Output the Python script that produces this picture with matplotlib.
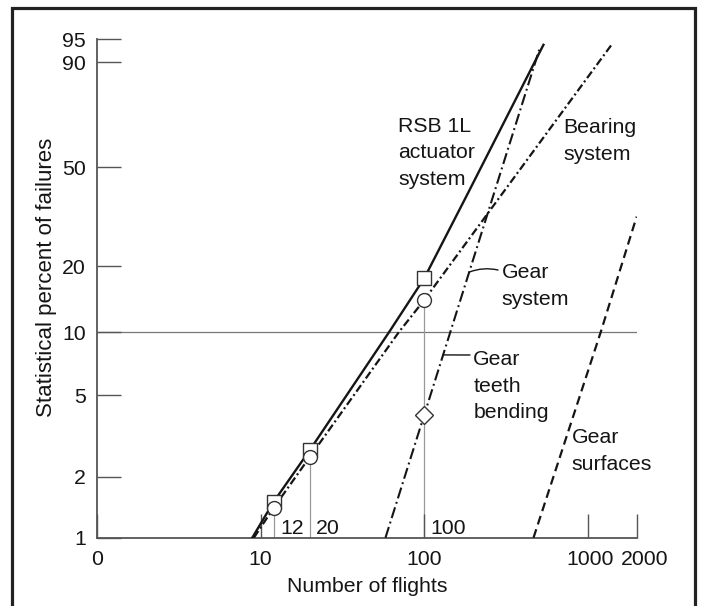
import numpy as np
import matplotlib
matplotlib.use("Agg")
import matplotlib.pyplot as plt
from matplotlib.patches import Rectangle
from matplotlib.ticker import NullLocator
from matplotlib.transforms import ScaledTranslation

plt.rcParams["font.family"] = ["Liberation Sans", "DejaVu Sans"]

# number of flights vs statistical percent of failures (Weibull paper)
rsb_flights = [8.9, 12, 20, 61, 100, 184, 536]
rsb_pct = [1.0, 1.5, 2.7, 10, 17.7, 40, 94]

bearing_flights = [9.1, 12, 20, 70, 100, 1420]
bearing_pct = [1.0, 1.4, 2.5, 10, 14.1, 94.3]

teeth_flights = [58, 100, 505]
teeth_pct = [1.0, 4.0, 93]

surface_flights = [466, 1200, 1990]
surface_pct = [1.0, 10, 32.6]

# test points (squares = actuator, circles = gear system, diamond = teeth)
test_flights = [12, 20, 100]
rsb_test_pct = [1.5, 2.7, 17.7]
gear_test_pct = [1.4, 2.5, 14.1]
teeth_test_flights = [100]
teeth_test_pct = [4.0]

x_ticks = [1, 10, 100, 1000, 2000]
x_ticklabels = ["0", "10", "100", "1000", "2000"]
y_ticks = [1, 2, 5, 10, 20, 50, 90, 95]

W, H = 702, 606


def weib(p):
    p = np.clip(np.asarray(p, float), 1e-6, 100 - 1e-6)
    return np.log(-np.log(1 - p / 100.0))


def weib_inv(w):
    return 100.0 * (1 - np.exp(-np.exp(np.asarray(w, float))))


def px(x, y):
    # figure pixel (from top-left) -> figure fraction
    return x / W, 1 - y / H


fig = plt.figure(figsize=(W / 100, H / 100), dpi=100)
ax = fig.add_axes([97 / W, (H - 537.7) / H, 540 / W, 498.4 / H])

ax.set_xscale("log")
ax.set_yscale("function", functions=(weib, weib_inv))
ax.set_xlim(1, 2000)
ax.set_ylim(1, 95)

ink = "#151515"
axis_grey = "#555555"
fs = 15.3

ax.plot(rsb_flights, rsb_pct, color=ink, lw=1.7, zorder=3)
ax.plot(bearing_flights, bearing_pct, color=ink, lw=1.6,
        ls=(0, (3.6, 1.4, 0.9, 1.4)), zorder=3)
ax.plot(teeth_flights, teeth_pct, color=ink, lw=1.5,
        ls=(0, (5.4, 1.8, 0.9, 1.8)), zorder=3)
ax.plot(surface_flights, surface_pct, color=ink, lw=1.6,
        ls=(0, (4.0, 2.3)), zorder=3)

ax.axhline(10, color="#777777", lw=0.9, zorder=1)
ax.vlines(test_flights, 1, gear_test_pct, color="#999999", lw=0.9, zorder=1)

ax.plot(test_flights, rsb_test_pct, "s", ms=10, mfc="white", mec="#333333",
        mew=1.0, zorder=5)
ax.plot(test_flights, gear_test_pct, "o", ms=10, mfc="white", mec="#333333",
        mew=1.0, zorder=6)
ax.plot(teeth_test_flights, teeth_test_pct, "D", ms=9.5, mfc="white",
        mec="#333333", mew=1.0, zorder=6)

for f in test_flights:
    ax.annotate(str(f), xy=(f, 0), xycoords=("data", "axes fraction"),
                xytext=(4.7, 6.8), textcoords="offset points",
                ha="left", va="center", fontsize=fs, color=ink)

ax.set_xticks(x_ticks, x_ticklabels)
ax.set_yticks(y_ticks, [str(v) for v in y_ticks])
ax.xaxis.set_minor_locator(NullLocator())
ax.yaxis.set_minor_locator(NullLocator())
ax.tick_params(direction="in", length=17.3, width=1.0, color=axis_grey,
               labelsize=fs, labelcolor=ink)
ax.tick_params(axis="x", pad=9)
ax.tick_params(axis="y", pad=8)

# the last two x labels sit a little right of their ticks
for tick, dx in zip(ax.xaxis.get_major_ticks()[-2:], (2, 8)):
    lab = tick.label1
    lab.set_transform(lab.get_transform()
                      + ScaledTranslation(dx / 100, 0, fig.dpi_scale_trans))

for side in ("top", "right"):
    ax.spines[side].set_visible(False)
for side in ("left", "bottom"):
    ax.spines[side].set_color(axis_grey)
    ax.spines[side].set_linewidth(1.3)

ax.set_xlabel("Number of flights", fontsize=fs, color=ink)
ax.set_ylabel("Statistical percent of failures", fontsize=16, color=ink)
ax.xaxis.set_label_coords(0.5, -(586.9 - 537.7) / 498.4)
ax.xaxis.label.set_va("center")
ax.yaxis.set_label_coords((46.4 - 97) / 540, 0.522)
ax.yaxis.label.set_va("center")

labels = [
    ("RSB 1L\nactuator\nsystem", 398.3, 116.7),
    ("Bearing\nsystem", 563.3, 118.3),
    ("Gear\nsystem", 501.7, 263.3),
    ("Gear\nteeth\nbending", 473.3, 350.0),
    ("Gear\nsurfaces", 571.7, 428.3),
]
for txt, x, y in labels:
    fig.text(*px(x, y), txt, ha="left", va="top", fontsize=fs, color=ink,
             linespacing=1.5)

# leader lines from labels to the steep curve
ax.annotate("", xy=(189, 18.9), xycoords="data",
            xytext=px(498, 270), textcoords="figure fraction",
            arrowprops=dict(arrowstyle="-", color=ink, lw=1.0,
                            shrinkA=0, shrinkB=0,
                            connectionstyle="arc3,rad=0.15"))
ax.annotate("", xy=(130, 7.8), xycoords="data",
            xytext=px(470, 355), textcoords="figure fraction",
            arrowprops=dict(arrowstyle="-", color=ink, lw=1.0,
                            shrinkA=0, shrinkB=0))

# outer frame around the figure
x0, y0 = px(11.5, 8.3)
x1, _ = px(695, 0)
fig.patches.append(Rectangle((x0, -0.05), x1 - x0, y0 + 0.05,
                             transform=fig.transFigure, fill=False,
                             edgecolor="#222222", lw=2.3, clip_on=False))

fig.savefig("out.png", dpi=100)
